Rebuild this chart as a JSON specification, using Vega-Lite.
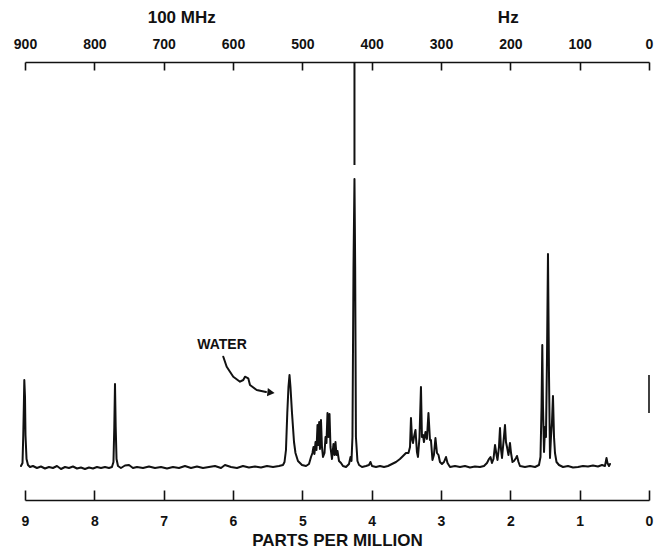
{
  "$schema": "https://vega.github.io/schema/vega-lite/v6.json",
  "width": 624,
  "height": 438,
  "autosize": {"type": "none"},
  "padding": {"left": 25, "top": 62, "right": 10, "bottom": 50},
  "background": "white",
  "config": {"view": {"stroke": null}, "axis": {"grid": false}, "font": "Liberation Sans"},
  "datasets": {
    "spectrum": [
      {"ppm":9.058,"v":1},{"ppm":9.036,"v":4},{"ppm":9.025,"v":32},{"ppm":9.017,"v":60},{"ppm":9.010,"v":87},{"ppm":9.000,"v":70},{"ppm":8.993,"v":32},{"ppm":8.978,"v":8},{"ppm":8.957,"v":2},{"ppm":8.928,"v":0},
      {"ppm":8.885,"v":1},{"ppm":8.828,"v":-1},{"ppm":8.770,"v":0.5},{"ppm":8.712,"v":-1.5},{"ppm":8.654,"v":0},{"ppm":8.597,"v":-1},{"ppm":8.539,"v":1},{"ppm":8.481,"v":-2},{"ppm":8.423,"v":0},{"ppm":8.366,"v":-1},
      {"ppm":8.308,"v":0.5},{"ppm":8.250,"v":-1.5},{"ppm":8.193,"v":-0.5},{"ppm":8.135,"v":-2},{"ppm":8.077,"v":-0.5},{"ppm":8.020,"v":-1.5},{"ppm":7.962,"v":0},{"ppm":7.904,"v":-1},{"ppm":7.846,"v":0},{"ppm":7.789,"v":-1},
      {"ppm":7.746,"v":0},{"ppm":7.724,"v":5},{"ppm":7.712,"v":40},{"ppm":7.702,"v":83},{"ppm":7.692,"v":40},{"ppm":7.680,"v":8},{"ppm":7.659,"v":1},{"ppm":7.616,"v":-1},{"ppm":7.558,"v":1.5},{"ppm":7.500,"v":2},
      {"ppm":7.443,"v":-1},{"ppm":7.385,"v":0},{"ppm":7.298,"v":-1},{"ppm":7.212,"v":0.5},{"ppm":7.125,"v":-1},{"ppm":7.039,"v":0},{"ppm":6.952,"v":-1.5},{"ppm":6.866,"v":0},{"ppm":6.779,"v":-1},{"ppm":6.693,"v":1},
      {"ppm":6.606,"v":-1},{"ppm":6.520,"v":0.5},{"ppm":6.433,"v":-1},{"ppm":6.347,"v":0},{"ppm":6.260,"v":1},{"ppm":6.173,"v":-1},{"ppm":6.116,"v":2},{"ppm":6.029,"v":0},{"ppm":5.943,"v":-1},{"ppm":5.856,"v":1},
      {"ppm":5.770,"v":-0.5},{"ppm":5.683,"v":0.5},{"ppm":5.596,"v":-0.5},{"ppm":5.510,"v":1},{"ppm":5.423,"v":0},{"ppm":5.337,"v":1},{"ppm":5.279,"v":2},{"ppm":5.257,"v":5},{"ppm":5.236,"v":17},{"ppm":5.217,"v":54},
      {"ppm":5.200,"v":80},{"ppm":5.185,"v":92},{"ppm":5.171,"v":80},{"ppm":5.149,"v":54},{"ppm":5.120,"v":25},{"ppm":5.099,"v":14},{"ppm":5.063,"v":6},{"ppm":5.005,"v":2},{"ppm":4.947,"v":1},{"ppm":4.904,"v":3},
      {"ppm":4.875,"v":10},{"ppm":4.854,"v":14},{"ppm":4.839,"v":20},{"ppm":4.825,"v":13},{"ppm":4.810,"v":25},{"ppm":4.796,"v":17},{"ppm":4.781,"v":42},{"ppm":4.770,"v":22},{"ppm":4.757,"v":45},{"ppm":4.746,"v":18},
      {"ppm":4.731,"v":47},{"ppm":4.717,"v":20},{"ppm":4.702,"v":10},{"ppm":4.680,"v":14},{"ppm":4.666,"v":30},{"ppm":4.652,"v":24},{"ppm":4.637,"v":54},{"ppm":4.623,"v":30},{"ppm":4.608,"v":53},{"ppm":4.594,"v":20},
      {"ppm":4.572,"v":8},{"ppm":4.551,"v":23},{"ppm":4.536,"v":12},{"ppm":4.522,"v":25},{"ppm":4.507,"v":12},{"ppm":4.493,"v":16},{"ppm":4.471,"v":6},{"ppm":4.442,"v":4},{"ppm":4.414,"v":1},{"ppm":4.370,"v":0},
      {"ppm":4.327,"v":3},{"ppm":4.305,"v":10},{"ppm":4.291,"v":6},{"ppm":4.277,"v":30},{"ppm":4.262,"v":200},{"ppm":4.248,"v":288},{"ppm":4.238,"v":200},{"ppm":4.227,"v":30},{"ppm":4.205,"v":6},{"ppm":4.182,"v":2},
      {"ppm":4.139,"v":0},{"ppm":4.082,"v":1},{"ppm":4.039,"v":2},{"ppm":4.017,"v":5},{"ppm":3.995,"v":1},{"ppm":3.938,"v":0},{"ppm":3.880,"v":1},{"ppm":3.822,"v":0},{"ppm":3.765,"v":1},{"ppm":3.707,"v":3},
      {"ppm":3.649,"v":5},{"ppm":3.592,"v":8},{"ppm":3.548,"v":11},{"ppm":3.505,"v":14},{"ppm":3.469,"v":14},{"ppm":3.447,"v":20},{"ppm":3.433,"v":49},{"ppm":3.418,"v":28},{"ppm":3.404,"v":24},{"ppm":3.390,"v":30},
      {"ppm":3.368,"v":37},{"ppm":3.347,"v":15},{"ppm":3.332,"v":10},{"ppm":3.310,"v":30},{"ppm":3.289,"v":80},{"ppm":3.275,"v":30},{"ppm":3.260,"v":32},{"ppm":3.246,"v":25},{"ppm":3.224,"v":35},{"ppm":3.203,"v":28},
      {"ppm":3.181,"v":54},{"ppm":3.159,"v":27},{"ppm":3.145,"v":27},{"ppm":3.123,"v":7},{"ppm":3.102,"v":12},{"ppm":3.080,"v":29},{"ppm":3.058,"v":14},{"ppm":3.036,"v":12},{"ppm":3.015,"v":5},{"ppm":2.986,"v":3},
      {"ppm":2.957,"v":5},{"ppm":2.928,"v":10},{"ppm":2.906,"v":4},{"ppm":2.870,"v":0},{"ppm":2.798,"v":1},{"ppm":2.726,"v":0},{"ppm":2.654,"v":1},{"ppm":2.582,"v":-0.5},{"ppm":2.510,"v":0.5},{"ppm":2.438,"v":0},
      {"ppm":2.380,"v":1},{"ppm":2.337,"v":4},{"ppm":2.308,"v":8},{"ppm":2.286,"v":10},{"ppm":2.265,"v":4},{"ppm":2.243,"v":8},{"ppm":2.221,"v":22},{"ppm":2.199,"v":12},{"ppm":2.185,"v":7},{"ppm":2.164,"v":20},
      {"ppm":2.149,"v":39},{"ppm":2.135,"v":18},{"ppm":2.120,"v":9},{"ppm":2.099,"v":25},{"ppm":2.077,"v":42},{"ppm":2.063,"v":25},{"ppm":2.048,"v":20},{"ppm":2.027,"v":12},{"ppm":2.005,"v":24},{"ppm":1.990,"v":14},
      {"ppm":1.969,"v":5},{"ppm":1.947,"v":6},{"ppm":1.918,"v":9},{"ppm":1.904,"v":11},{"ppm":1.882,"v":5},{"ppm":1.861,"v":1},{"ppm":1.789,"v":0},{"ppm":1.716,"v":1},{"ppm":1.644,"v":0},{"ppm":1.587,"v":2},
      {"ppm":1.565,"v":10},{"ppm":1.550,"v":60},{"ppm":1.539,"v":122},{"ppm":1.529,"v":60},{"ppm":1.514,"v":15},{"ppm":1.500,"v":40},{"ppm":1.486,"v":30},{"ppm":1.471,"v":110},{"ppm":1.457,"v":213},{"ppm":1.442,"v":90},
      {"ppm":1.428,"v":9},{"ppm":1.414,"v":30},{"ppm":1.399,"v":45},{"ppm":1.385,"v":71},{"ppm":1.370,"v":30},{"ppm":1.356,"v":14},{"ppm":1.334,"v":5},{"ppm":1.298,"v":2},{"ppm":1.240,"v":0},{"ppm":1.168,"v":1},
      {"ppm":1.096,"v":-0.5},{"ppm":1.024,"v":0},{"ppm":0.952,"v":1},{"ppm":0.880,"v":0.5},{"ppm":0.808,"v":1.5},{"ppm":0.736,"v":0.5},{"ppm":0.678,"v":2},{"ppm":0.635,"v":1},{"ppm":0.613,"v":9},{"ppm":0.599,"v":4},
      {"ppm":0.577,"v":1},{"ppm":0.563,"v":3}
    ],
    "arrow": [
      {"i":1,"ppm":6.140,"v":110.3},{"i":2,"ppm":6.091,"v":100.3},{"i":3,"ppm":5.996,"v":90.3},{"i":4,"ppm":5.899,"v":85.3},
      {"i":5,"ppm":5.852,"v":87},{"i":6,"ppm":5.827,"v":90.3},{"i":7,"ppm":5.780,"v":88.7},{"i":8,"ppm":5.755,"v":82},
      {"i":9,"ppm":5.658,"v":77},{"i":10,"ppm":5.524,"v":75}
    ]
  },
  "layer": [
    {
      "data": {"name": "spectrum"},
      "mark": {"type": "line", "color": "#111111", "strokeWidth": 2, "strokeJoin": "round", "strokeCap": "round"},
      "encoding": {
        "x": {"field": "ppm", "type": "quantitative",
          "scale": {"domain": [0, 9], "reverse": true, "nice": false, "zero": false},
          "axis": {"orient": "bottom", "values": [0,1,2,3,4,5,6,7,8,9], "format": "d",
            "tickSize": -10, "tickWidth": 1.6, "tickColor": "#111111",
            "domainColor": "#111111", "domainWidth": 1.6,
            "labelFont": "Liberation Sans", "labelFontSize": 14, "labelFontWeight": "bold", "labelColor": "#111111",
            "labelPadding": 24, "labelFlush": false, "labelOverlap": false, "labelBound": false,
            "title": "PARTS PER MILLION", "titleFont": "Liberation Sans", "titleFontSize": 17, "titleFontWeight": "bold",
            "titleColor": "#111111", "titlePadding": 4}},
        "y": {"field": "v", "type": "quantitative", "scale": {"domain": [-33, 405], "nice": false, "zero": false}, "axis": null}
      }
    },
    {
      "data": {"name": "arrow"},
      "mark": {"type": "line", "color": "#111111", "strokeWidth": 2, "strokeJoin": "round", "strokeCap": "round"},
      "encoding": {
        "x": {"field": "ppm", "type": "quantitative",
          "axis": {"orient": "top", "values": [0,1,2,3,4,5,6,7,8,9], "labelExpr": "format(datum.value*100, 'd')",
            "tickSize": -8, "tickWidth": 1.6, "tickColor": "#111111",
            "domainColor": "#111111", "domainWidth": 1.6,
            "labelFont": "Liberation Sans", "labelFontSize": 14, "labelFontWeight": "bold", "labelColor": "#111111",
            "labelPadding": 19, "labelFlush": false, "labelOverlap": false, "labelBound": false,
            "title": null}},
        "y": {"field": "v", "type": "quantitative", "axis": null},
        "order": {"field": "i"}
      }
    },
    {
      "data": {"values": [{}]},
      "mark": {"type": "rule", "color": "#111111", "strokeWidth": 2},
      "encoding": {
        "x": {"datum": 4.248, "type": "quantitative", "axis": null},
        "y": {"datum": 302, "type": "quantitative", "axis": null},
        "y2": {"datum": 405}
      }
    },
    {
      "data": {"values": [{}]},
      "mark": {"type": "rule", "color": "#111111", "strokeWidth": 1.6},
      "encoding": {
        "x": {"datum": 0.0, "type": "quantitative", "axis": null},
        "y": {"datum": 54, "type": "quantitative", "axis": null},
        "y2": {"datum": 92}
      }
    },
    {
      "data": {"values": [{}]},
      "mark": {"type": "point", "shape": "triangle-right", "filled": true, "size": 70, "color": "#111111", "opacity": 1, "angle": 6},
      "encoding": {
        "x": {"datum": 5.452, "type": "quantitative", "axis": null},
        "y": {"datum": 74.5, "type": "quantitative", "axis": null}
      }
    },
    {
      "data": {"values": [{}]},
      "mark": {"type": "text", "text": "WATER", "font": "Liberation Sans", "fontSize": 14, "fontWeight": "bold", "color": "#111111", "baseline": "middle", "align": "center"},
      "encoding": {
        "x": {"datum": 6.159, "type": "quantitative", "axis": null},
        "y": {"datum": 122, "type": "quantitative", "axis": null}
      }
    },
    {
      "data": {"values": [{}]},
      "mark": {"type": "text", "text": "100 MHz", "font": "Liberation Sans", "fontSize": 17, "fontWeight": "bold", "color": "#111111", "baseline": "middle", "align": "center"},
      "encoding": {
        "x": {"datum": 6.74, "type": "quantitative", "axis": null},
        "y": {"datum": 449, "type": "quantitative", "axis": null}
      }
    },
    {
      "data": {"values": [{}]},
      "mark": {"type": "text", "text": "Hz", "font": "Liberation Sans", "fontSize": 17, "fontWeight": "bold", "color": "#111111", "baseline": "middle", "align": "center"},
      "encoding": {
        "x": {"datum": 2.03, "type": "quantitative", "axis": null},
        "y": {"datum": 449, "type": "quantitative", "axis": null}
      }
    }
  ],
  "resolve": {"axis": {"x": "independent"}}
}
